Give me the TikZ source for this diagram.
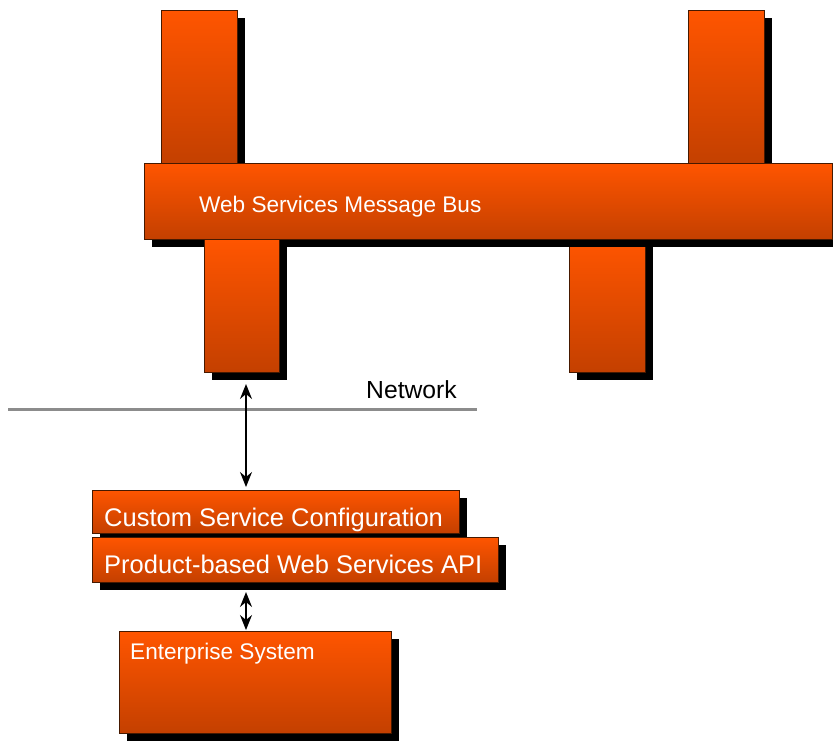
\documentclass[tikz,border=0pt]{standalone}
\usepackage{fontspec}
\setmainfont{Liberation Sans}
\usetikzlibrary{shadows,arrows.meta}
\definecolor{otop}{RGB}{255,85,0}
\definecolor{obot}{RGB}{196,64,0}
\definecolor{oedge}{RGB}{70,25,0}
\definecolor{netgray}{RGB}{140,140,140}
\begin{document}
\begin{tikzpicture}[x=1pt,y=-1pt,
  blk/.style={rectangle, draw=oedge, line width=1pt, top color=otop, bottom color=obot,
    inner sep=0pt, outer sep=0pt,
    drop shadow={shadow xshift=8pt, shadow yshift=-8pt, fill=black, opacity=1}},
  lbl/.style={text=white, anchor=base west, inner sep=0pt},
  big/.style={font=\fontsize{25.5}{28}\selectfont},
  small/.style={font=\fontsize{22.6}{26}\selectfont},
  arr/.style={{Stealth[length=15pt,width=12pt,inset=5pt]}-{Stealth[length=15pt,width=12pt,inset=5pt]}, line width=1.5pt}]
\useasboundingbox (0,0) rectangle (833,740);
% upper columns and bus
\node[blk, minimum width=76pt, minimum height=153pt] (tl) at (199,86.5) {};
\node[blk, minimum width=76pt, minimum height=153pt] (tr) at (726,86.5) {};
\node[blk, minimum width=76pt, minimum height=133pt] (lr) at (607,305.5) {};
\node[blk, minimum width=688pt, minimum height=76pt] (bus) at (488,201) {};
\node[blk, minimum width=75pt, minimum height=133pt] (ll) at (241.5,305.5) {};
\node[lbl, small] (tbus) at (199,212) {Web Services Message Bus};
% network
\coordinate (n1) at (8,409);
\coordinate (n2) at (477,409);
\draw[netgray, line width=3pt] (n1) -- (n2);
\node[anchor=base west, inner sep=0pt, font=\fontsize{24.7}{28}\selectfont] (net) at (366,398) {Network};
% lower stack
\node[blk, minimum width=367pt, minimum height=43pt] (custom) at (275.5,511.5) {};
\node[blk, minimum width=406pt, minimum height=45pt] (prod) at (295,559.5) {};
\node[blk, minimum width=272pt, minimum height=102pt] (ent) at (255,682) {};
\node[lbl, big] (tcustom) at (104,526) {Custom Service Configuration};
\node[lbl, big] (tprod) at (104,573) {Product-based Web Services API};
\node[lbl, small] (tent) at (130,659) {Enterprise System};
% arrows
\coordinate (a1) at (246,384);
\draw[arr, shorten >=3pt] (a1) -- (a1 |- custom.north);
\coordinate (a2) at (246,592);
\draw[arr, shorten >=1pt] (a2) -- (a2 |- ent.north);
\end{tikzpicture}
\end{document}
